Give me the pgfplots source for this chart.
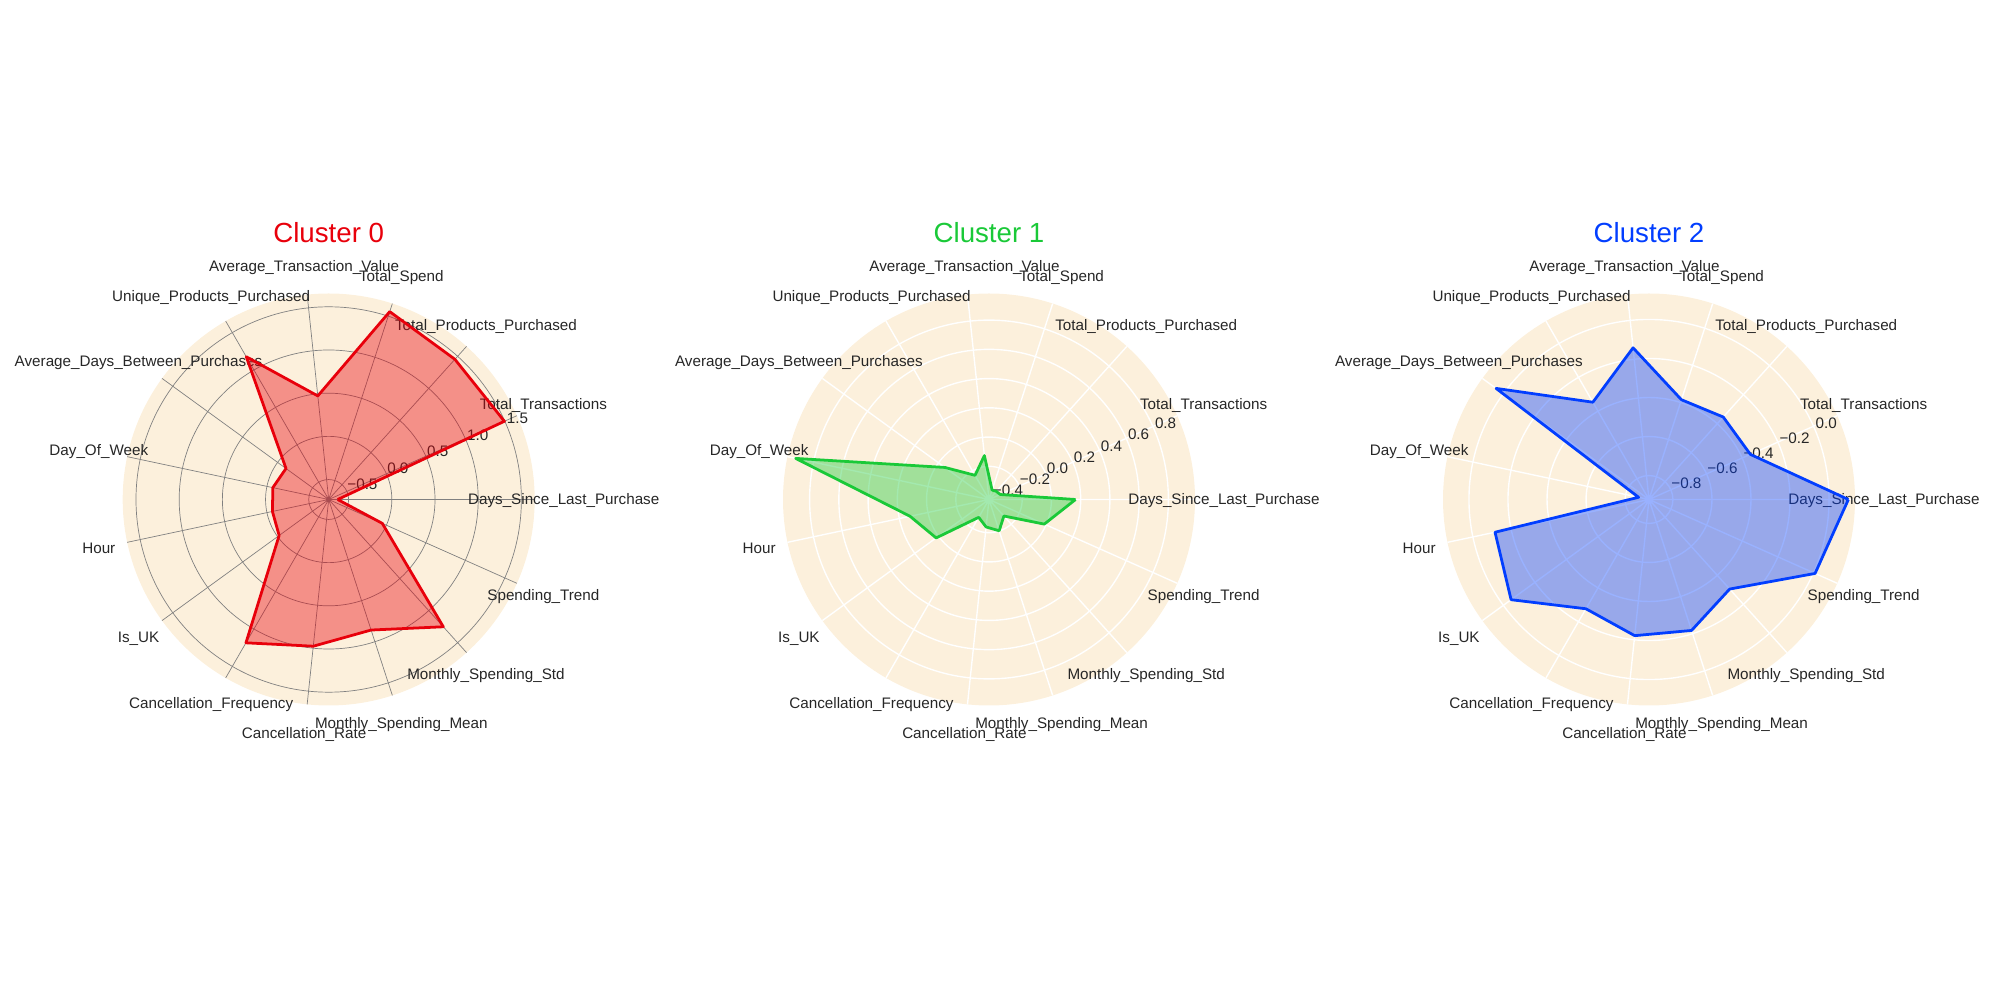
\documentclass[border=0pt]{standalone}
\usepackage{fontspec}
\setmainfont{Liberation Sans}
\usepackage{pgfplots}
\usepackage{pgfplotstable}
\pgfplotsset{compat=1.18}
\usepgfplotslibrary{polar}
\definecolor{bg}{HTML}{FCF0DC}
\definecolor{cA}{HTML}{E8000B}
\definecolor{cB}{HTML}{1AC938}
\definecolor{cC}{HTML}{023EFF}
\definecolor{txt}{HTML}{262626}

% angle (deg), standardized value
\pgfplotstableread{
a v
0 -0.627
24 1.496
48 1.453
72 1.556
96 0.475
120 1.177
144 -0.120
168 -0.070
192 -0.065
216 -0.022
240 1.185
264 0.977
288 0.858
312 1.252
336 -0.052
360 -0.627
}\cza
\pgfplotstableread{
a v
0 0.165
24 -0.343
48 -0.352
72 -0.359
96 -0.125
120 -0.236
144 -0.054
168 0.925
192 0.125
216 0.020
240 -0.286
264 -0.238
288 -0.202
312 -0.275
336 -0.013
360 0.165
}\czb
\pgfplotstableread{
a v
0 0.099
24 -0.354
48 -0.354
72 -0.385
96 -0.141
120 -0.347
144 0.046
168 -0.868
192 -0.116
216 -0.049
240 -0.276
264 -0.221
288 -0.217
312 -0.305
336 0.009
360 0.099
}\czc

\tikzset{
  tl/.style={anchor=center, inner sep=0pt, text=txt, font=\fontsize{11}{13}\selectfont, text height=9.9pt, text depth=2.3pt},
  rl/.style={anchor=south west, inner sep=0pt, text=txt, font=\fontsize{11}{13}\selectfont, yshift=1.3pt},
  ttl/.style={anchor=base, font=\fontsize{20}{24}\selectfont},
}
\newcommand\thetalabels{%
  \node[tl] at (axis cs:0,\Rlab) {Days\_Since\_Last\_Purchase};
  \node[tl] at (axis cs:24,\Rlab) {Total\_Transactions};
  \node[tl] at (axis cs:48,\Rlab) {Total\_Products\_Purchased};
  \node[tl] at (axis cs:72,\Rlab) {Total\_Spend};
  \node[tl] at (axis cs:96,\Rlab) {Average\_Transaction\_Value};
  \node[tl] at (axis cs:120,\Rlab) {Unique\_Products\_Purchased};
  \node[tl] at (axis cs:144,\Rlab) {Average\_Days\_Between\_Purchases};
  \node[tl] at (axis cs:168,\Rlab) {Day\_Of\_Week};
  \node[tl] at (axis cs:192,\Rlab) {Hour};
  \node[tl] at (axis cs:216,\Rlab) {Is\_UK};
  \node[tl] at (axis cs:240,\Rlab) {Cancellation\_Frequency};
  \node[tl] at (axis cs:264,\Rlab) {Cancellation\_Rate};
  \node[tl] at (axis cs:288,\Rlab) {Monthly\_Spending\_Mean};
  \node[tl] at (axis cs:312,\Rlab) {Monthly\_Spending\_Std};
  \node[tl] at (axis cs:336,\Rlab) {Spending\_Trend};
}
\pgfplotsset{
  radar/.style={
    anchor=origin, scale only axis, width=296.64bp, height=296.64bp,
    xmin=0, xmax=360, ymin=0,
    xtick={0,24,...,336},
    xticklabel={\mbox{}}, yticklabel={\mbox{}},
    xticklabels={}, yticklabels={},
    major tick length=0pt,
    axis line style={draw=none},
    xmajorgrids, ymajorgrids,
    clip=false,
  }
}

\begin{document}
\begin{tikzpicture}
\path[use as bounding box] (0,0) rectangle (1440bp,720bp);
\fill[bg] (236.66bp,360.36bp) circle[radius=148.32bp];
\fill[bg] (712.08bp,360.36bp) circle[radius=148.32bp];
\fill[bg] (1187.28bp,360.36bp) circle[radius=148.32bp];

% ---- Cluster 0 ----
\def\Rlab{2.721}
\begin{polaraxis}[radar, at={(236.66bp,360.36bp)}, ymax=2.385,
  ytick={0.231,0.731,1.231,1.731,2.231},
  major grid style={draw=gray, line width=0.5pt}]
\thetalabels
\node[rl] at (axis cs:22.5,0.231) {−0.5};
\node[rl] at (axis cs:22.5,0.731) {0.0};
\node[rl] at (axis cs:22.5,1.231) {0.5};
\node[rl] at (axis cs:22.5,1.731) {1.0};
\node[rl] at (axis cs:22.5,2.231) {1.5};
\addplot[draw=cA, line width=2pt, fill=cA, fill opacity=0.4, line join=round]
  table[x=a, y expr=\thisrow{v}+0.731] {\cza};
\end{polaraxis}

% ---- Cluster 1 ----
\def\Rlab{1.607}
\begin{polaraxis}[radar, at={(712.08bp,360.36bp)}, ymax=1.409,
  ytick={0.027,0.227,0.427,0.627,0.827,1.027,1.227},
  major grid style={draw=white, line width=1pt}]
\thetalabels
\node[rl] at (axis cs:22.5,0.027) {−0.4};
\node[rl] at (axis cs:22.5,0.227) {−0.2};
\node[rl] at (axis cs:22.5,0.427) {0.0};
\node[rl] at (axis cs:22.5,0.627) {0.2};
\node[rl] at (axis cs:22.5,0.827) {0.4};
\node[rl] at (axis cs:22.5,1.027) {0.6};
\node[rl] at (axis cs:22.5,1.227) {0.8};
\addplot[draw=cB, line width=2pt, fill=cB, fill opacity=0.4, line join=round]
  table[x=a, y expr=\thisrow{v}+0.427] {\czb};
\end{polaraxis}

% ---- Cluster 2 ----
\def\Rlab{1.204}
\begin{polaraxis}[radar, at={(1187.28bp,360.36bp)}, ymax=1.0556,
  ytick={0.1226,0.3226,0.5226,0.7226,0.9226},
  major grid style={draw=white, line width=1pt}]
\thetalabels
\node[rl] at (axis cs:22.5,0.1226) {−0.8};
\node[rl] at (axis cs:22.5,0.3226) {−0.6};
\node[rl] at (axis cs:22.5,0.5226) {−0.4};
\node[rl] at (axis cs:22.5,0.7226) {−0.2};
\node[rl] at (axis cs:22.5,0.9226) {0.0};
\addplot[draw=cC, line width=2pt, fill=cC, fill opacity=0.4, line join=round]
  table[x=a, y expr=\thisrow{v}+0.9226] {\czc};
\end{polaraxis}

\node[ttl, text=cA] at (236.66bp,545.04bp) {Cluster 0};
\node[ttl, text=cB] at (712.08bp,545.04bp) {Cluster 1};
\node[ttl, text=cC] at (1187.28bp,545.04bp) {Cluster 2};
\end{tikzpicture}
\end{document}
